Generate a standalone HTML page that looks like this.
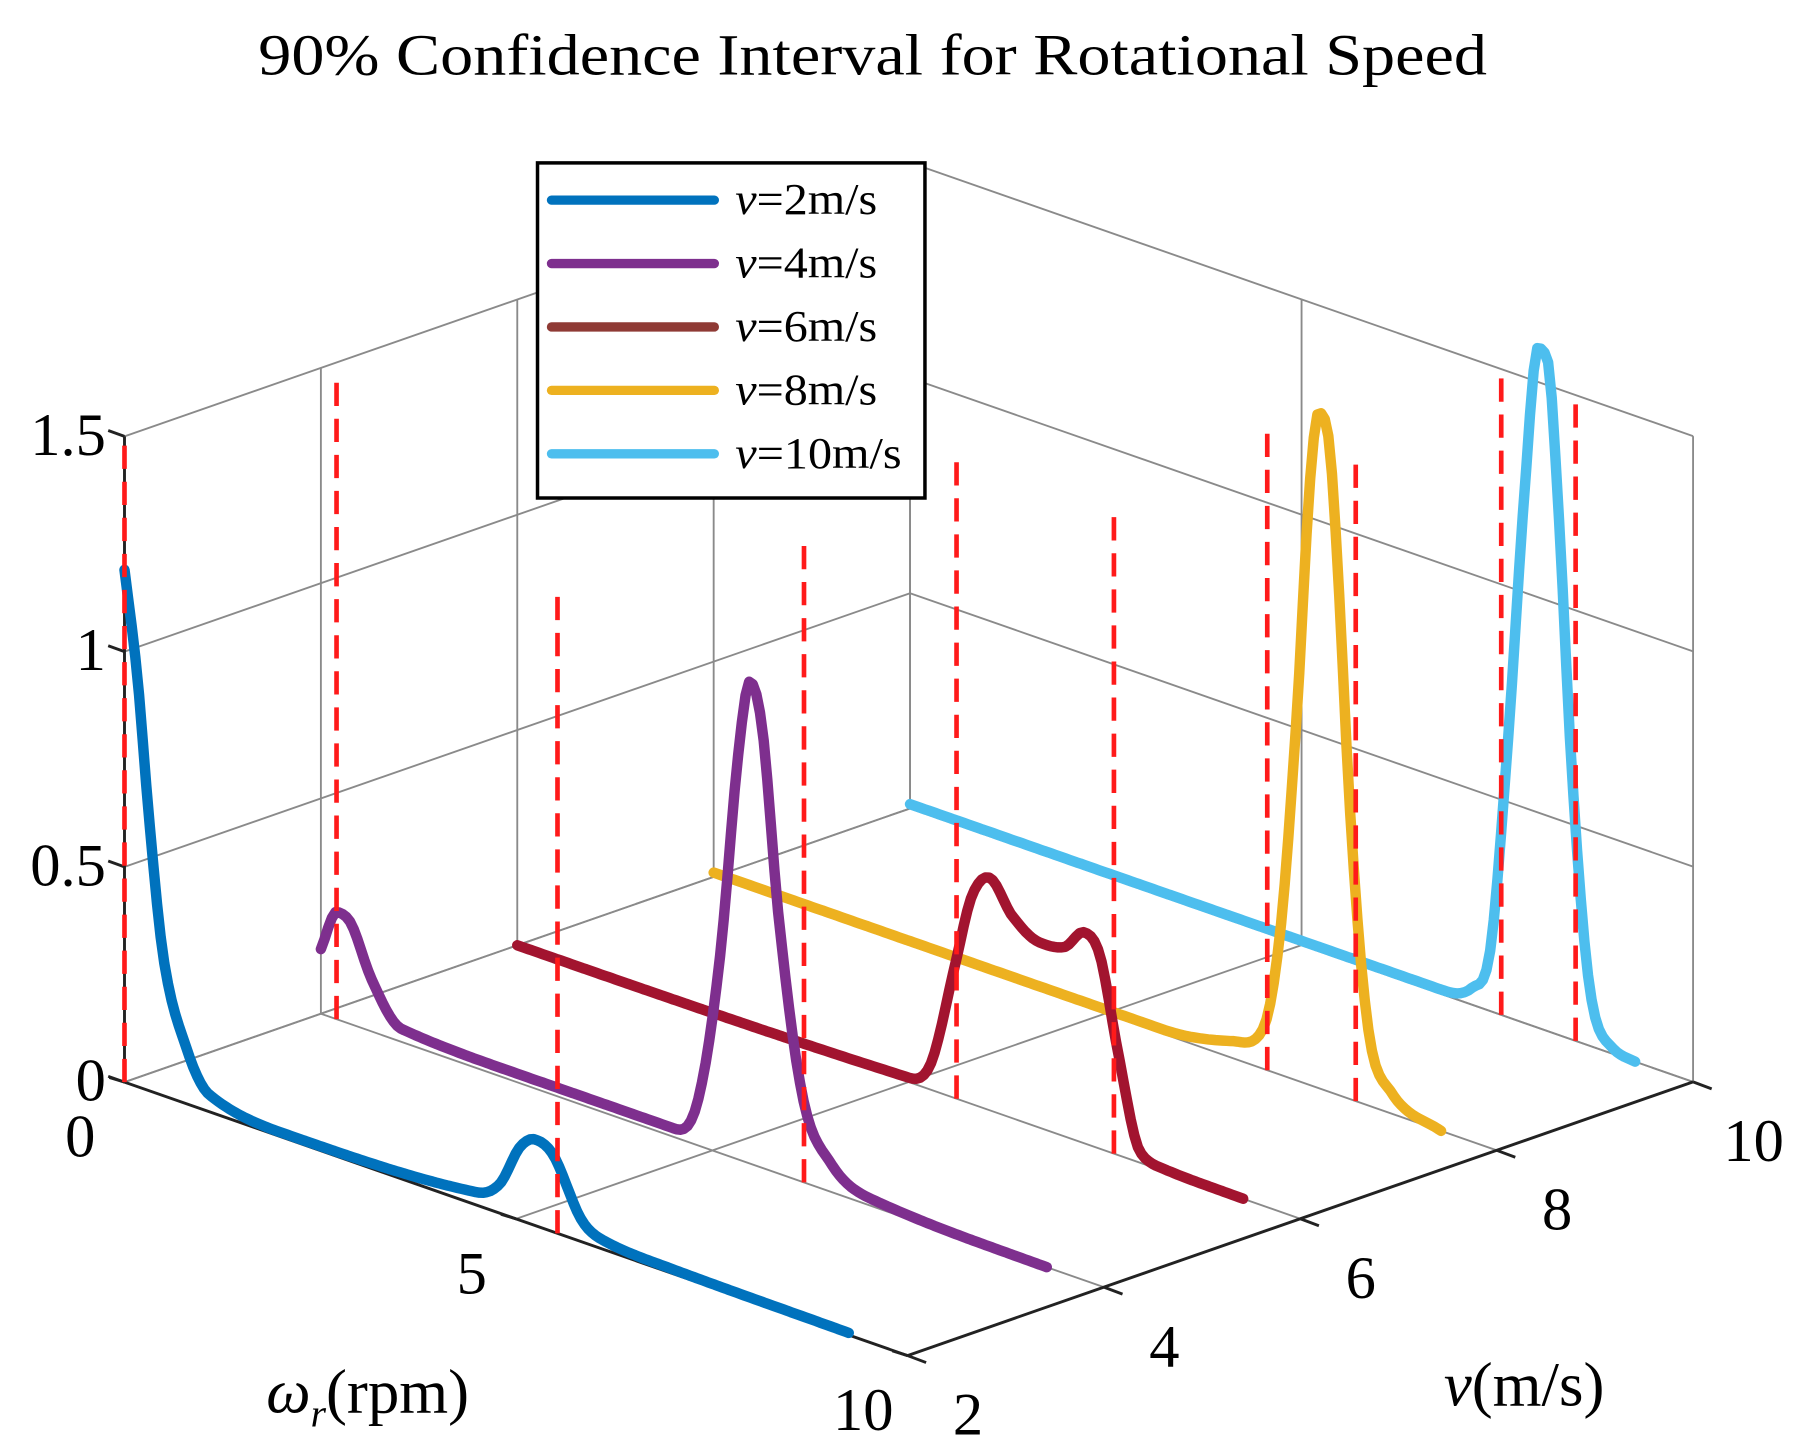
<!DOCTYPE html>
<html><head><meta charset="utf-8"><style>
html,body{margin:0;padding:0;background:#fff;}
svg{display:block;}
text{font-family:"Liberation Serif",serif;fill:#000;}
</style></head><body>
<svg id="chart" width="1815" height="1444" viewBox="0 0 1560 1241" preserveAspectRatio="none" xmlns="http://www.w3.org/2000/svg">
<rect width="1560" height="1241" fill="#fff"/>
<text x="222" y="64" font-size="50" textLength="1056" lengthAdjust="spacingAndGlyphs">90% Confidence Interval for Rotational Speed</text>
<g id="grid"></g><g id="axes"></g><g id="series"></g>
<g id="legend">
<rect x="462" y="140" width="333" height="288" fill="#fff" stroke="#000" stroke-width="3"/>
</g>
</svg>
<script>
const NS='http://www.w3.org/2000/svg';
// axis ticks
const omegaTicks=[0,5,10];
const vTicks=[2,4,6,8,10];
const zTicks=[0,0.5,1,1.5];
const zTickLabels=['0','0.5','1','1.5'];
// series
const seriesNames=['v=2m/s','v=4m/s','v=6m/s','v=8m/s','v=10m/s'];
const seriesV=[2,4,6,8,10];
const colors=['#0072BD','#7E2F8E','#A2142F','#EDB120','#4DBEEE'];
const legendColors=['#0072BD','#7E2F8E','#8f3a35','#EDB120','#4DBEEE'];
const w2=[0,0.16,0.31,0.49,0.79,1.08,2.12,4.5,4.8,5.05,5.25,5.47,5.84,6.14,7,9.25];
const z2=[1.19,0.96,0.64,0.33,0.13,0.04,0.01,0.03,0.07,0.17,0.2,0.18,0.05,0.02,0.01,0.005];
const w4=[0,0.21,0.36,0.65,1.03,2.5,4.52,4.81,5.1,5.33,5.48,5.63,5.85,6.15,6.52,7.04,9.27];
const z4=[0.15,0.25,0.24,0.12,0.03,0.02,0.02,0.1,0.46,0.94,1.12,1.03,0.59,0.2,0.065,0.016,0];
const w6=[0,4.98,5.28,5.58,5.8,6.03,6.32,6.69,6.99,7.24,7.44,7.66,7.96,8.25,9.27];
const z6=[0,0.01,0.06,0.3,0.48,0.54,0.47,0.43,0.44,0.49,0.45,0.25,0.024,0.005,0];
const w8=[0,5.75,6.64,7.01,7.24,7.46,7.61,7.73,7.86,7.98,8.13,8.35,8.65,9.29];
const z8=[0.01,0.01,0.04,0.09,0.34,0.89,1.39,1.57,1.51,1.19,0.66,0.19,0.05,0];
const w10=[0,6.8,7.18,7.4,7.62,7.85,8.02,8.14,8.29,8.44,8.66,8.96,9.26];
const z10=[0.01,0.01,0.04,0.13,0.6,1.24,1.58,1.56,1.19,0.66,0.16,0.015,0];
const seriesW=[w2,w4,w6,w8,w10];
const seriesZ=[z2,z4,z6,z8,z10];
// confidence interval bounds (omega) per series
const ciLow=[0,0.2,5.61,7.07,7.55];
const ciHigh=[5.53,6.17,7.62,8.2,8.5];
const ciHeight=1.48;

function P(w,v,z){return [107+w*67.3+(v-2)*84.4, 930+w*23.5-(v-2)*29.4-z*370];}
function line(g,a,b,stroke,sw,dash){const l=document.createElementNS(NS,'line');
l.setAttribute('x1',a[0]);l.setAttribute('y1',a[1]);l.setAttribute('x2',b[0]);l.setAttribute('y2',b[1]);
l.setAttribute('stroke',stroke);l.setAttribute('stroke-width',sw);if(dash)l.setAttribute('stroke-dasharray',dash);g.appendChild(l);return l;}
function txt(g,x,y,s,size,anchor){const t=document.createElementNS(NS,'text');t.setAttribute('x',x);t.setAttribute('y',y);t.setAttribute('font-size',size);t.setAttribute('text-anchor',anchor||'middle');t.textContent=s;g.appendChild(t);return t;}
// monotone cubic (Fritsch-Carlson) sampling of z(w)
function monotone(xs,ys,steps){const n=xs.length,d=[],m=[];
  for(let i=0;i<n-1;i++)d.push((ys[i+1]-ys[i])/(xs[i+1]-xs[i]));
  m[0]=d[0];m[n-1]=d[n-2];
  for(let i=1;i<n-1;i++)m[i]=(d[i-1]*d[i]<=0)?0:(d[i-1]+d[i])/2;
  for(let i=0;i<n-1;i++){if(d[i]===0){m[i]=0;m[i+1]=0;continue;}
    const a=m[i]/d[i],b=m[i+1]/d[i],s=a*a+b*b;if(s>9){const t=3/Math.sqrt(s);m[i]=t*a*d[i];m[i+1]=t*b*d[i];}}
  const out=[];const x0=xs[0],x1=xs[n-1];let seg=0;
  for(let k=0;k<=steps;k++){const x=x0+(x1-x0)*k/steps;while(seg<n-2&&x>xs[seg+1])seg++;
    const h=xs[seg+1]-xs[seg],t=(x-xs[seg])/h,t2=t*t,t3=t2*t;
    const y=(2*t3-3*t2+1)*ys[seg]+(t3-2*t2+t)*h*m[seg]+(-2*t3+3*t2)*ys[seg+1]+(t3-t2)*h*m[seg+1];
    out.push([x,y]);}
  return out;}

const grid=document.getElementById('grid');
const gc='#8a8a8a';
omegaTicks.forEach(w=>{
  let l=line(grid,P(w,2,0),P(w,10,0),gc,1.6);
  
  
  l=line(grid,P(w,10,0),P(w,10,1.5),gc,1.6);
  
  
});
vTicks.forEach(v=>{
  let l=line(grid,P(0,v,0),P(10,v,0),gc,1.6);
  
  
  l=line(grid,P(0,v,0),P(0,v,1.5),gc,1.6);
  
  
});
zTicks.forEach(z=>{
  let l=line(grid,P(0,2,z),P(0,10,z),gc,1.6);
  
  
  l=line(grid,P(0,10,z),P(10,10,z),gc,1.6);
  
  
});

const axes=document.getElementById('axes');
let a=line(axes,P(0,2,0),P(10,2,0),'#222',2.5);


a=line(axes,P(10,2,0),P(10,10,0),'#222',2.5);


a=line(axes,P(0,2,0),P(0,2,1.5),'#222',2.5);


omegaTicks.forEach(w=>{const p=P(w,2,0);line(axes,p,[p[0]-13,p[1]-4],'#222',2.5);
  const t=txt(axes,p[0]-38,p[1]+64,String(w),52);
  
  });
vTicks.forEach(v=>{const p=P(10,v,0);line(axes,p,[p[0]+16,p[1]+6],'#222',2.5);
  const t=txt(axes,p[0]+52,p[1]+68,String(v),52);
  
  });
zTicks.forEach((z,i)=>{const p=P(0,2,z);line(axes,p,[p[0]-14,p[1]-5],'#222',2.5);
  const t=txt(axes,p[0]-16,p[1]+16,zTickLabels[i],52,'end');
  
  });
let xl=txt(axes,316,1214,'',54);
xl.innerHTML='<tspan font-style="italic">ω</tspan><tspan font-style="italic" font-size="34" dy="12">r</tspan><tspan dy="-12">(rpm)</tspan>';


let yl=txt(axes,1310,1208,'',54);
yl.innerHTML='<tspan font-style="italic">v</tspan>(m/s)';



const sg=document.getElementById('series');
for(let i=seriesV.length-1;i>=0;i--){
  const v=seriesV[i];
  const samp=monotone(seriesW[i],seriesZ[i],200);
  const pts=samp.map(s=>P(s[0],v,s[1]).map(c=>c.toFixed(1)).join(',')).join(' ');
  const pl=document.createElementNS(NS,'polyline');
  pl.setAttribute('points',pts);pl.setAttribute('fill','none');pl.setAttribute('stroke',colors[i]);
  pl.setAttribute('stroke-width',9);pl.setAttribute('stroke-linejoin','round');pl.setAttribute('stroke-linecap','round');
  
  
  sg.appendChild(pl);
  [ciLow[i],ciHigh[i]].forEach(w=>{
    const l=line(sg,P(w,v,0),P(w,v,ciHeight),'#ff1a1a',4,'20 11');
    
    
  });
}

const lg=document.getElementById('legend');
seriesNames.forEach((n,i)=>{
  const y=172+i*54.5;
  const l=line(lg,[474,y],[614,y],legendColors[i],8);
  l.setAttribute('stroke-linecap','round');
  
  
  const t=txt(lg,632,y+12,'',38,'start');
  t.innerHTML='<tspan font-style="italic">v</tspan>'+n.slice(1);
  t.setAttribute('textLength',i==4?143:122);
  t.setAttribute('lengthAdjust','spacingAndGlyphs');
  
  
});
</script>
</body></html>
